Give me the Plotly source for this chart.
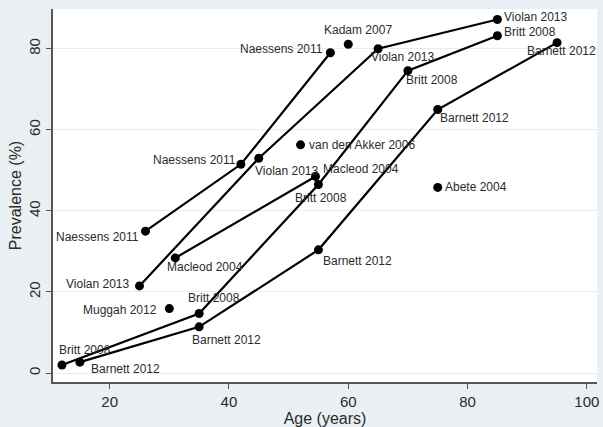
import plotly.graph_objects as go

# Prevalence of multimorbidity by age, per study
naessens_age = [26, 42, 57]
naessens_prev = [35.0, 51.5, 79.0]

violan_age = [25, 45, 65, 85]
violan_prev = [21.5, 53.0, 80.0, 87.2]

britt_age = [12, 35, 55, 70, 85]
britt_prev = [2.0, 14.7, 46.5, 74.6, 83.2]

barnett_age = [15, 35, 55, 75, 95]
barnett_prev = [2.7, 11.4, 30.4, 65.0, 81.5]

macleod_age = [31, 54.5]
macleod_prev = [28.4, 48.5]

# Studies with a single age group
single_names = ["Kadam 2007", "van den Akker 2006", "Abete 2004", "Muggah 2012"]
single_age = [60, 52, 75, 30]
single_prev = [81.1, 56.3, 45.8, 15.9]

x_ticks = [20, 40, 60, 80, 100]
y_ticks = [0, 20, 40, 60, 80]

# Label placement per point: (anchor, x offset px, y offset px)
naessens_lab = [("right", -4, -6), ("right", -3, 4), ("right", -5, 4)]
violan_lab = [("right", -8, 2), ("left", -6, -13), ("left", -9, -8), ("left", 5, 3)]
britt_lab = [("left", -5, 15), ("left", -13, 15), ("center", 3, -13),
             ("left", -4, -9), ("left", 5, 4)]
barnett_lab = [("left", 9, -7), ("left", -9, -13), ("left", 3, -11),
               ("left", 0, -8), ("left", -32, -8)]
macleod_lab = [("left", -10, -9), ("left", 6, 7)]
single_lab = [("left", -26, 14), ("left", 6, 0), ("left", 5, 0), ("right", -10, -1)]

series = [
    ("Naessens 2011", naessens_age, naessens_prev, naessens_lab),
    ("Violan 2013", violan_age, violan_prev, violan_lab),
    ("Britt 2008", britt_age, britt_prev, britt_lab),
    ("Barnett 2012", barnett_age, barnett_prev, barnett_lab),
    ("Macleod 2004", macleod_age, macleod_prev, macleod_lab),
]

LABEL_FONT = dict(family="Liberation Sans, Arial, sans-serif", size=12, color="#2b2b2b")

fig = go.Figure()
annotations = []

for name, ages, prevs, labs in series:
    fig.add_trace(go.Scatter(
        x=ages, y=prevs, mode="lines+markers", name=name,
        line=dict(color="black", width=2.2),
        marker=dict(color="black", size=9),
        showlegend=False,
    ))
    for a, p, (anchor, dx, dy) in zip(ages, prevs, labs):
        annotations.append(dict(
            x=a, y=p, xref="x", yref="y", text=name, showarrow=False,
            xanchor=anchor, yanchor="middle", xshift=dx, yshift=dy,
            font=LABEL_FONT,
        ))

fig.add_trace(go.Scatter(
    x=single_age, y=single_prev, mode="markers",
    marker=dict(color="black", size=9), showlegend=False,
))
for name, a, p, (anchor, dx, dy) in zip(single_names, single_age, single_prev, single_lab):
    annotations.append(dict(
        x=a, y=p, xref="x", yref="y", text=name, showarrow=False,
        xanchor=anchor, yanchor="middle", xshift=dx, yshift=dy,
        font=LABEL_FONT,
    ))

fig.update_layout(
    width=603, height=427,
    margin=dict(l=53, r=4, t=9, b=41),
    paper_bgcolor="#e9eff2",
    plot_bgcolor="white",
    annotations=annotations,
    font=dict(family="Liberation Sans, Arial, sans-serif", color="#2b2b2b"),
    xaxis=dict(
        range=[10.5, 101.7], tickvals=x_ticks, ticks="outside", ticklen=5,
        tickcolor="#555555", showline=True, linecolor="#555555", linewidth=2,
        showgrid=False, zeroline=False, tickfont=dict(size=15),
        title=dict(text="Age (years)", font=dict(size=16), standoff=2),
    ),
    yaxis=dict(
        range=[-2.2, 89.8], tickvals=y_ticks, ticks="outside", ticklen=5,
        tickcolor="#555555", showline=True, linecolor="#555555", linewidth=2,
        showgrid=True, gridcolor="#e6edf0", gridwidth=1, zeroline=False,
        tickangle=-90, tickfont=dict(size=15),
        title=dict(text="Prevalence (%)", font=dict(size=16), standoff=0),
    ),
)

fig.write_html("out.html")
